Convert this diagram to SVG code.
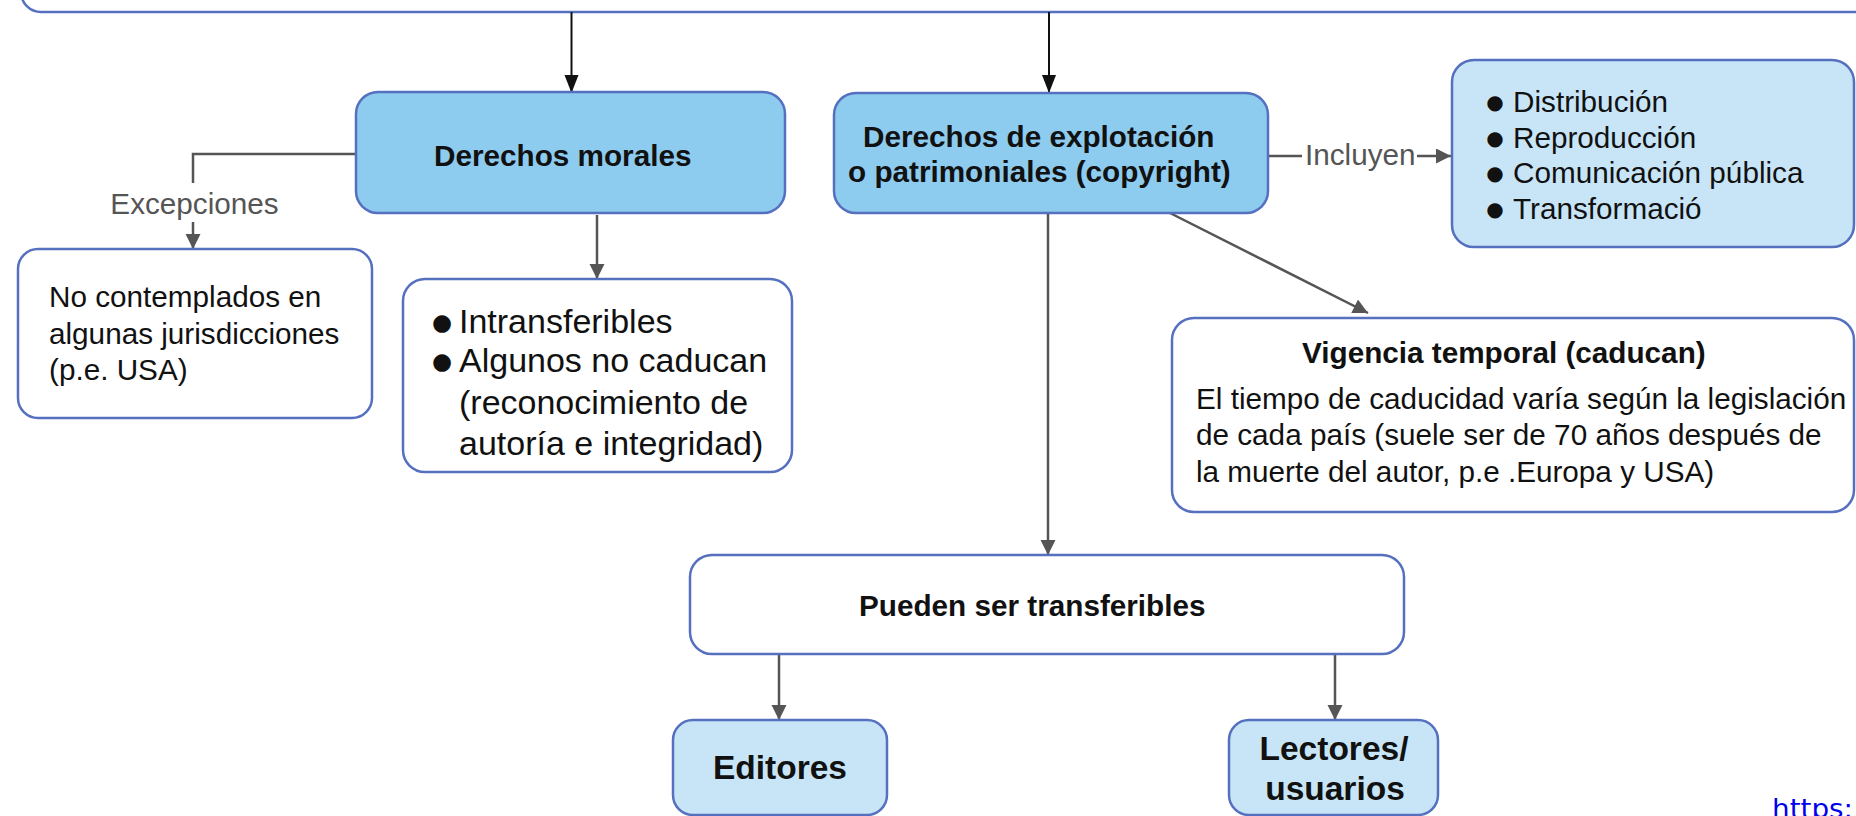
<svg xmlns="http://www.w3.org/2000/svg" width="1856" height="816" viewBox="0 0 1856 816">
<defs>
<style>
.box{stroke:#5670c0;stroke-width:2.5}
.w{fill:#ffffff}
.d{fill:#8dcbef}
.l{fill:#c8e5f7}
.t{font-family:"Liberation Sans",Arial,sans-serif;font-size:29.7px;fill:#111}
.b{font-weight:bold}
.g{fill:#555}
.bul{font-family:"DejaVu Sans",sans-serif;font-size:20px;fill:#111}
.c{fill:none;stroke:#555;stroke-width:2.5}
.k{fill:none;stroke:#111;stroke-width:2}
</style>
<marker id="ag" markerUnits="userSpaceOnUse" markerWidth="16" markerHeight="16" refX="15" refY="7.5" orient="auto">
<path d="M0,0 L15,7.5 L0,15 z" fill="#555"/>
</marker>
<marker id="ak" markerUnits="userSpaceOnUse" markerWidth="20" markerHeight="16" refX="18" refY="7" orient="auto">
<path d="M0,0 L18,7 L0,14 z" fill="#111"/>
</marker>
</defs>
<rect width="1856" height="816" fill="#ffffff"/>

<g id="top">
<rect class="box w" x="21" y="-60" width="1900" height="72" rx="20"/>
</g>

<g id="connectors">
<path class="k" d="M571.5,12 V93" marker-end="url(#ak)"/>
<path class="k" d="M1049,12 V93" marker-end="url(#ak)"/>
<path class="c" d="M356,154 H193 V183"/>
<path class="c" d="M193,222 V249" marker-end="url(#ag)"/>
<path class="c" d="M597,215 V279" marker-end="url(#ag)"/>
<path class="c" d="M1268,156 H1302"/>
<path class="c" d="M1417,156 H1451" marker-end="url(#ag)"/>
<path class="c" d="M1048,214 V555" marker-end="url(#ag)"/>
<path class="c" d="M1170,213 L1368,313" marker-end="url(#ag)"/>
<path class="c" d="M779,654 V720" marker-end="url(#ag)"/>
<path class="c" d="M1335,654 V720" marker-end="url(#ag)"/>
<text class="t g" x="194.5" y="214" text-anchor="middle">Excepciones</text>
<text class="t g" x="1305" y="165">Incluyen</text>
</g>

<g id="morales">
<rect class="box d" x="356" y="92" width="429" height="121" rx="22"/>
<text class="t b" x="434" y="166">Derechos morales</text>
</g>

<g id="explotacion">
<rect class="box d" x="834" y="93" width="434" height="120" rx="22"/>
<text class="t b" x="863" y="147">Derechos de explotación</text>
<text class="t b" x="848" y="182">o patrimoniales (copyright)</text>
</g>

<g id="incluyen-lista">
<rect class="box l" x="1452" y="60" width="402" height="187" rx="22"/>
<text class="bul" x="1495" y="109" text-anchor="middle">●</text>
<text class="bul" x="1495" y="144.5" text-anchor="middle">●</text>
<text class="bul" x="1495" y="180" text-anchor="middle">●</text>
<text class="bul" x="1495" y="215.5" text-anchor="middle">●</text>
<text class="t" x="1513" y="112">Distribución</text>
<text class="t" x="1513" y="147.5">Reproducción</text>
<text class="t" x="1513" y="183">Comunicación pública</text>
<text class="t" x="1513" y="218.5">Transformació</text>
</g>

<g id="excepciones">
<rect class="box w" x="18" y="249" width="354" height="169" rx="20"/>
<text class="t" x="49" y="307">No contemplados en</text>
<text class="t" x="49" y="343.5">algunas jurisdicciones</text>
<text class="t" x="49" y="380">(p.e. USA)</text>
</g>

<g id="intransferibles">
<rect class="box w" x="403" y="279" width="389" height="193" rx="22"/>
<text class="bul" x="442" y="330" text-anchor="middle" style="font-size:23px">●</text>
<text class="bul" x="442" y="368.5" text-anchor="middle" style="font-size:23px">●</text>
<text class="t" x="459" y="333" style="font-size:34px">Intransferibles</text>
<text class="t" x="459" y="371.5" style="font-size:34px">Algunos no caducan</text>
<text class="t" x="459" y="414" style="font-size:34px">(reconocimiento de</text>
<text class="t" x="459" y="455" style="font-size:34px">autoría e integridad)</text>
</g>

<g id="vigencia">
<rect class="box w" x="1172" y="318" width="682" height="194" rx="22"/>
<text class="t b" x="1302" y="362.5">Vigencia temporal (caducan)</text>
<text class="t" x="1196" y="408.5">El tiempo de caducidad varía según la legislación</text>
<text class="t" x="1196" y="445">de cada país (suele ser de 70 años después de</text>
<text class="t" x="1196" y="481.5">la muerte del autor, p.e .Europa y USA)</text>
</g>

<g id="transferibles">
<rect class="box w" x="690" y="555" width="714" height="99" rx="22"/>
<text class="t b" x="859" y="616">Pueden ser transferibles</text>
</g>

<g id="editores">
<rect class="box l" x="673" y="720" width="214" height="95" rx="20"/>
<text class="t b" x="780" y="779" text-anchor="middle" style="font-size:33.5px">Editores</text>
</g>

<g id="lectores">
<rect class="box l" x="1229" y="720" width="209" height="95" rx="20"/>
<text class="t b" x="1334" y="760" text-anchor="middle" style="font-size:33.5px">Lectores/</text>
<text class="t b" x="1335" y="800" text-anchor="middle" style="font-size:33.5px">usuarios</text>
</g>

<g id="link">
<text x="1772" y="818" style="font-family:'DejaVu Sans',sans-serif;font-size:27px;fill:#0000ee" textLength="81" lengthAdjust="spacingAndGlyphs">https:</text>
</g>
</svg>
